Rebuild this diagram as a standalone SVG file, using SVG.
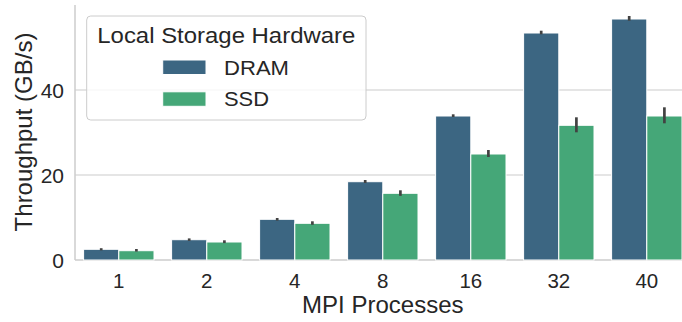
<svg xmlns="http://www.w3.org/2000/svg" width="682" height="322" viewBox="0 0 682 322">
<style>
text{font-family:"Liberation Sans",Arial,sans-serif;fill:#262626}
.tick{font-size:21px}
.xt{font-size:20.5px}
.lab{font-size:24px}
.grid{stroke:#cccccc;stroke-width:1.2;fill:none}
.spine{stroke:#cccccc;stroke-width:1.5;fill:none}
.dram{fill:#3c6682;stroke:#ffffff;stroke-width:1}
.ssd{fill:#45a778;stroke:#ffffff;stroke-width:1}
.err{stroke:#424242;stroke-width:2.7;fill:none}
</style>
<rect width="682" height="322" fill="#ffffff"/>
<g id="axes">
<line class="grid" x1="75" y1="175" x2="682" y2="175"/>
<line class="grid" x1="75" y1="90" x2="682" y2="90"/>
<line class="spine" x1="75" y1="5" x2="75" y2="260"/>
<line class="spine" x1="75" y1="260" x2="682" y2="260"/>
<g class="tick" text-anchor="end">
<text x="64" y="268">0</text>
<text x="64" y="183">20</text>
<text x="64" y="98">40</text>
</g>
<g class="xt" text-anchor="middle">
<text x="118.8" y="287.8">1</text>
<text x="206.8" y="287.8">2</text>
<text x="294.8" y="287.8">4</text>
<text x="382.8" y="287.8">8</text>
<text x="470.8" y="287.8">16</text>
<text x="558.8" y="287.8">32</text>
<text x="646.8" y="287.8">40</text>
</g>
<text class="lab" x="382.8" y="312.5" text-anchor="middle">MPI Processes</text>
<text class="lab" transform="translate(32,132) rotate(-90)" text-anchor="middle">Throughput (GB/s)</text>
</g>
<g id="bars-dram">
<rect class="dram" x="83.6" y="249.3" width="35.2" height="10.7"/>
<rect class="dram" x="171.6" y="239.7" width="35.2" height="20.3"/>
<rect class="dram" x="259.6" y="219.3" width="35.2" height="40.7"/>
<rect class="dram" x="347.6" y="181.7" width="35.2" height="78.3"/>
<rect class="dram" x="435.6" y="116" width="35.2" height="144"/>
<rect class="dram" x="523.6" y="33" width="35.2" height="227"/>
<rect class="dram" x="611.6" y="19" width="35.2" height="241"/>
</g>
<g id="bars-ssd">
<rect class="ssd" x="118.8" y="250.7" width="35.2" height="9.3"/>
<rect class="ssd" x="206.8" y="242" width="35.2" height="18"/>
<rect class="ssd" x="294.8" y="223.3" width="35.2" height="36.7"/>
<rect class="ssd" x="382.8" y="193.3" width="35.2" height="66.7"/>
<rect class="ssd" x="470.8" y="154" width="35.2" height="106"/>
<rect class="ssd" x="558.8" y="125.3" width="35.2" height="134.7"/>
<rect class="ssd" x="646.8" y="116" width="35.2" height="144"/>
</g>
<g id="error-bars">
<line class="err" x1="101.2" y1="248.2" x2="101.2" y2="250.4"/>
<line class="err" x1="136.4" y1="249" x2="136.4" y2="251.6"/>
<line class="err" x1="189.2" y1="238.4" x2="189.2" y2="240.9"/>
<line class="err" x1="224.4" y1="240.3" x2="224.4" y2="243.1"/>
<line class="err" x1="277.2" y1="218" x2="277.2" y2="220.6"/>
<line class="err" x1="312.4" y1="221.3" x2="312.4" y2="224.8"/>
<line class="err" x1="365.2" y1="180" x2="365.2" y2="183"/>
<line class="err" x1="400.4" y1="190.3" x2="400.4" y2="195.8"/>
<line class="err" x1="453.2" y1="114.3" x2="453.2" y2="117"/>
<line class="err" x1="488.4" y1="150" x2="488.4" y2="157"/>
<line class="err" x1="541.2" y1="30.7" x2="541.2" y2="34.3"/>
<line class="err" x1="576.4" y1="117.3" x2="576.4" y2="132.3"/>
<line class="err" x1="629.2" y1="16" x2="629.2" y2="20.7"/>
<line class="err" x1="664.4" y1="107.3" x2="664.4" y2="123.3"/>
</g>
<g id="legend">
<rect x="86.7" y="16" width="279.3" height="104" rx="4" ry="4" fill="#ffffff" fill-opacity="0.8" stroke="#cccccc" stroke-width="1"/>
<text x="226.3" y="43.3" text-anchor="middle" font-size="22.5" textLength="258" lengthAdjust="spacingAndGlyphs">Local Storage Hardware</text>
<rect class="dram" x="162.7" y="60" width="43.3" height="14.5"/>
<text x="224" y="75.3" font-size="21" textLength="65" lengthAdjust="spacingAndGlyphs">DRAM</text>
<rect class="ssd" x="162.7" y="91.8" width="43.3" height="14.5"/>
<text x="224" y="106" font-size="21" textLength="45" lengthAdjust="spacingAndGlyphs">SSD</text>
</g>
</svg>
